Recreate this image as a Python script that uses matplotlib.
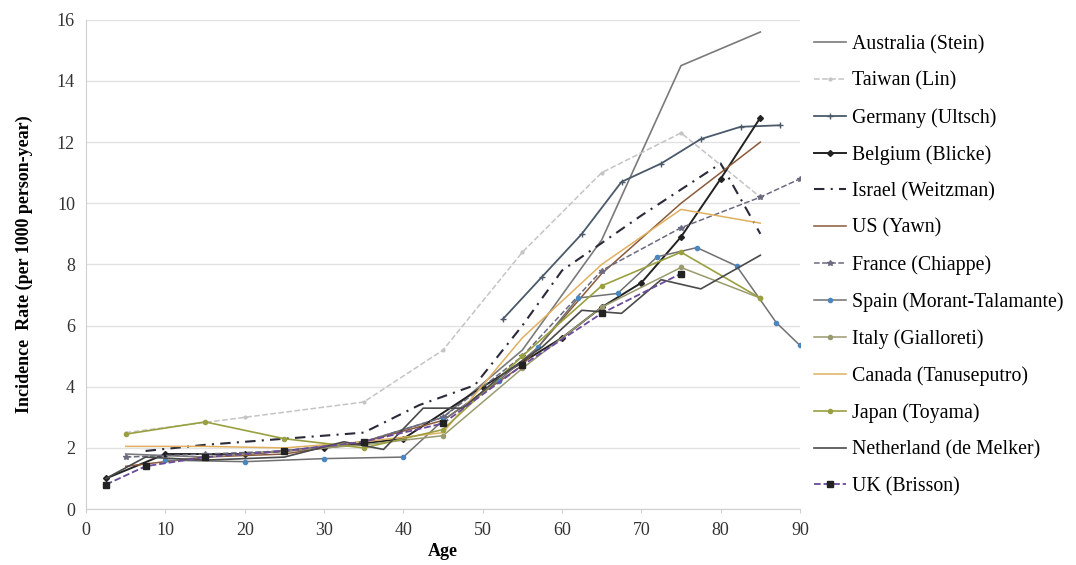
import matplotlib
matplotlib.use("Agg")
import matplotlib.pyplot as plt

plt.rcParams['font.family'] = ['Liberation Serif', 'DejaVu Serif']

# age-specific incidence (per 1000 person-year)
australia_age = [5, 15, 25, 35, 45, 55, 65, 75, 85]
australia_val = [1.8, 1.7, 1.9, 2.2, 3.0, 5.2, 8.8, 14.5, 15.6]

taiwan_age = [5, 20, 35, 45, 55, 65, 75, 85]
taiwan_val = [2.5, 3.0, 3.5, 5.2, 8.4, 11.0, 12.3, 10.2]

germany_age = [52.5, 57.5, 62.5, 67.5, 72.5, 77.5, 82.5, 87.5]
germany_val = [6.2, 7.6, 9.0, 10.7, 11.3, 12.1, 12.5, 12.55]

belgium_age = [2.5, 10, 20, 30, 40, 50, 60, 65, 70, 75, 80, 85]
belgium_val = [1.0, 1.8, 1.8, 2.0, 2.3, 4.0, 5.6, 6.6, 7.4, 8.9, 10.8, 12.8]

israel_age = [7.5, 15, 25, 35, 42, 49, 55, 60, 70, 80, 85]
israel_val = [1.9, 2.1, 2.3, 2.5, 3.4, 4.05, 6.0, 7.8, 9.6, 11.3, 9.0]

us_age = [5, 15, 25, 35, 45, 55, 65, 75, 85]
us_val = [1.4, 1.7, 1.8, 2.2, 2.9, 4.7, 7.7, 10.0, 12.0]

france_age = [5, 15, 25, 35, 45, 55, 65, 75, 85, 90]
france_val = [1.7, 1.8, 1.9, 2.2, 3.0, 5.0, 7.8, 9.2, 10.2, 10.8]

spain_age = [10, 20, 30, 40, 45, 52, 57, 62, 67, 72, 77, 82, 87, 90]
spain_val = [1.6, 1.55, 1.65, 1.7, 2.9, 4.2, 5.3, 6.9, 7.05, 8.25, 8.55, 7.95, 6.1, 5.35]

italy_age = [15, 25, 35, 45, 55, 65, 75, 85]
italy_val = [1.7, 1.9, 2.1, 2.4, 4.6, 6.6, 7.9, 6.9]

canada_age = [5, 15, 25, 35, 45, 55, 65, 75, 85]
canada_val = [2.05, 2.05, 2.0, 2.2, 2.5, 5.6, 8.0, 9.8, 9.35]

japan_age = [5, 15, 25, 35, 45, 55, 65, 75, 85]
japan_val = [2.45, 2.85, 2.3, 2.0, 2.6, 5.0, 7.3, 8.4, 6.9]

netherland_age = [2.5, 7.5, 15, 25, 32.5, 37.5, 42.5, 47.5, 52.5, 57.5, 62.5, 67.5, 72.5, 77.5, 85]
netherland_val = [1.0, 1.7, 1.6, 1.7, 2.2, 1.95, 3.3, 3.3, 4.4, 5.3, 6.5, 6.4, 7.5, 7.2, 8.3]

uk_age = [2.5, 7.5, 15, 25, 35, 45, 55, 65, 75]
uk_val = [0.8, 1.4, 1.7, 1.9, 2.2, 2.8, 4.7, 6.4, 7.7]

series = [
    ("Australia (Stein)", australia_age, australia_val, dict(color="#7a7a7a", ls="-", lw=1.2)),
    ("Taiwan (Lin)", taiwan_age, taiwan_val, dict(color="#c4c4c4", ls="--", lw=1.1, marker=".", ms=4)),
    ("Germany (Ultsch)", germany_age, germany_val, dict(color="#4a5a6a", ls="-", lw=1.3, marker="+", ms=4)),
    ("Belgium (Blicke)", belgium_age, belgium_val, dict(color="#222222", ls="-", lw=1.4, marker="D", ms=3)),
    ("Israel (Weitzman)", israel_age, israel_val, dict(color="#2a2a3a", ls=(0, (5, 3, 1, 3)), lw=1.5)),
    ("US (Yawn)", us_age, us_val, dict(color="#8a5a3a", ls="-", lw=1.1)),
    ("France (Chiappe)", france_age, france_val, dict(color="#6a6a80", ls="--", lw=1.1, marker="*", ms=4)),
    ("Spain (Morant-Talamante)", spain_age, spain_val, dict(color="#707070", ls="-", lw=1.1, marker="o", ms=3, mfc="#4a86c0", mec="#4a86c0")),
    ("Italy (Gialloreti)", italy_age, italy_val, dict(color="#9a9a70", ls="-", lw=1.1, marker="o", ms=3)),
    ("Canada (Tanuseputro)", canada_age, canada_val, dict(color="#e0b060", ls="-", lw=1.1)),
    ("Japan (Toyama)", japan_age, japan_val, dict(color="#9aa040", ls="-", lw=1.2, marker="o", ms=3)),
    ("Netherland (de Melker)", netherland_age, netherland_val, dict(color="#4a4a4a", ls="-", lw=1.2)),
    ("UK (Brisson)", uk_age, uk_val, dict(color="#6a4a9a", ls="--", lw=1.3, marker="s", ms=4, mfc="#222222", mec="#222222")),
]

fig = plt.figure(figsize=(10.76, 5.65), dpi=100)
ax = fig.add_axes([0.080, 0.099, 0.6635, 0.866])

for name, x, y, st in series:
    ax.plot(x, y, label=name, **st)

ax.set_xlim(0, 90)
ax.set_ylim(0, 16)
ax.set_xticks(range(0, 91, 10))
ax.set_yticks(range(0, 17, 2))
ax.yaxis.grid(True, color="#e2e2e2", lw=1)
ax.set_axisbelow(True)
for s in ["top", "right"]:
    ax.spines[s].set_visible(False)
for s in ["left", "bottom"]:
    ax.spines[s].set_color("#cfcfcf")
ax.tick_params(axis="both", colors="#cfcfcf", labelcolor="#333333", labelsize=13, length=3)
ax.tick_params(axis="y", length=0, pad=8)
ax.tick_params(axis="x", pad=6)
ax.set_xlabel("Age", fontsize=13, fontweight="bold", labelpad=3)
ax.set_ylabel("Incidence  Rate (per 1000 person-year)", fontsize=13, fontweight="bold", labelpad=17)

fig.legend(loc="upper left", bbox_to_anchor=(0.749, 0.952), frameon=False,
           fontsize=14.3, handlelength=1.6, handletextpad=0.3, labelspacing=0.87,
           borderaxespad=0)

fig.savefig("out.png", dpi=100)
